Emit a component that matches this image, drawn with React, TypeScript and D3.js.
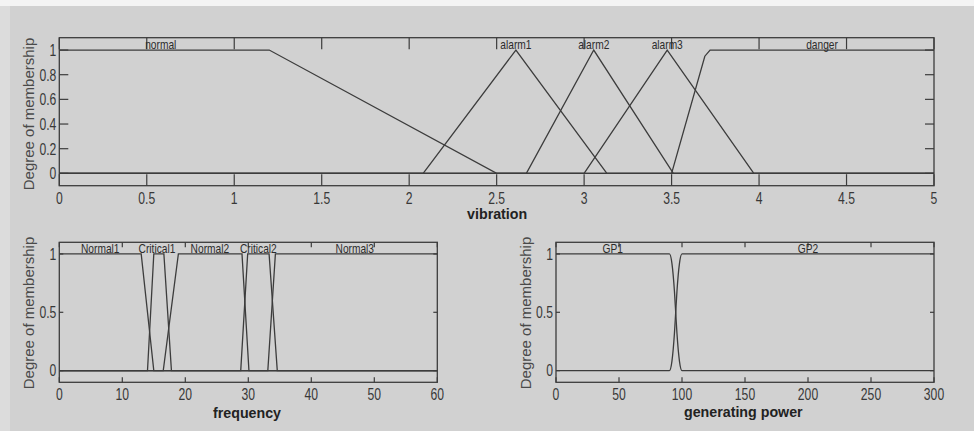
import React from "react";
import * as d3 from "d3";

// ---------- data ----------
const vibTicks = [0, 0.5, 1, 1.5, 2, 2.5, 3, 3.5, 4, 4.5, 5];
const vibYTicks = [0, 0.2, 0.4, 0.6, 0.8, 1];
const vibNames = ["normal", "alarm1", "alarm2", "alarm3", "danger"];
const vibLabelX = [0.58, 2.61, 3.055, 3.475, 4.36];
const vibNormal: [number, number][] = [[0, 1], [1.2, 1], [2.5, 0], [5, 0]];
const vibAlarm1: [number, number][] = [[0, 0], [2.08, 0], [2.61, 1], [3.13, 0], [5, 0]];
const vibAlarm2: [number, number][] = [[0, 0], [2.67, 0], [3.055, 1], [3.51, 0], [5, 0]];
const vibAlarm3: [number, number][] = [[0, 0], [3.0, 0], [3.475, 1], [3.97, 0], [5, 0]];
const vibDanger: [number, number][] = [[0, 0], [3.5, 0], [3.69, 0.95], [3.72, 1], [5, 1]];

const freqTicks = [0, 10, 20, 30, 40, 50, 60];
const smallYTicks = [0, 0.5, 1];
const freqNames = ["Normal1", "Critical1", "Normal2", "Critical2", "Normal3"];
const freqLabelX = [6.5, 15.5, 23.9, 31.6, 46.9];
const freqNormal1: [number, number][] = [[0, 1], [13, 1], [15, 0], [60, 0]];
const freqCritical1: [number, number][] = [[0, 0], [14, 0], [15, 1], [16.6, 1], [17.8, 0], [60, 0]];
const freqNormal2: [number, number][] = [[0, 0], [16.5, 0], [18.9, 1], [29, 1], [30.1, 0], [60, 0]];
const freqCritical2: [number, number][] = [[0, 0], [28.8, 0], [29.9, 1], [33.3, 1], [34.6, 0], [60, 0]];
const freqNormal3: [number, number][] = [[0, 0], [33.1, 0], [34.3, 1], [60, 1]];

const gpTicks = [0, 50, 100, 150, 200, 250, 300];
const gpNames = ["GP1", "GP2"];
const gpLabelX = [45, 200];
const gp1: [number, number][] = [[0, 1], [90, 1], [92, 0.92], [94, 0.68], [95, 0.5], [96, 0.32], [98, 0.08], [100, 0], [300, 0]];
const gp2: [number, number][] = [[0, 0], [90, 0], [92, 0.08], [94, 0.32], [95, 0.5], [96, 0.68], [98, 0.92], [100, 1], [300, 1]];

// ---------- drawing ----------
const INK = "#3c3c3c";
const FONT = "'Liberation Sans', Arial, sans-serif";

function NText({ x, y, children, size, anchor = "middle", sx = 0.8, weight = "normal", rotate = 0, fill = "#2c2c2c" }: any) {
  return (
    <text
      transform={`translate(${x},${y}) rotate(${rotate}) scale(${sx},1)`}
      fontSize={size}
      fontFamily={FONT}
      fontWeight={weight}
      textAnchor={anchor}
      fill={fill}
    >
      {children}
    </text>
  );
}

function MFPlot({ left, right, top, bottom, domain, xTicks, yTicks, mfs, names, labelX, xLabel, xTickLen, yTickLen, xLabelY, tickLabelY, yLabelX, yLabelY, tickFmt, curve }: any) {
  const x = d3.scaleLinear().domain(domain).range([left, right]);
  const y = d3.scaleLinear().domain([-0.1, 1.1]).range([bottom, top]);
  const line = d3
    .line<[number, number]>()
    .x((d) => x(d[0]))
    .y((d) => y(d[1]))
    .curve(curve || d3.curveLinear);
  return (
    <g>
      {mfs.map((m: [number, number][], i: number) => (
        <path key={i} d={line(m) || ""} fill="none" stroke={INK} strokeWidth={1.3} />
      ))}
      <rect x={left} y={top} width={right - left} height={bottom - top} fill="none" stroke={INK} strokeWidth={1.3} />
      {xTicks.map((t: number) => (
        <g key={"xt" + t}>
          <line x1={x(t)} x2={x(t)} y1={bottom} y2={bottom - xTickLen} stroke={INK} strokeWidth={1.2} />
          <line x1={x(t)} x2={x(t)} y1={top} y2={top + xTickLen} stroke={INK} strokeWidth={1.2} />
          <NText x={x(t)} y={tickLabelY} size={16} sx={0.76} fill="#383838">
            {tickFmt(t)}
          </NText>
        </g>
      ))}
      {yTicks.map((t: number) => (
        <g key={"yt" + t}>
          <line x1={left} x2={left + yTickLen} y1={y(t)} y2={y(t)} stroke={INK} strokeWidth={1.2} />
          <line x1={right} x2={right - yTickLen} y1={y(t)} y2={y(t)} stroke={INK} strokeWidth={1.2} />
          <NText x={left - 3} y={y(t) + 5.8} size={16} sx={0.76} anchor="end" fill="#383838">
            {String(t)}
          </NText>
        </g>
      ))}
      {names.map((n: string, i: number) => (
        <NText key={n} x={x(labelX[i])} y={y(1) - 1} size={12} sx={0.85}>
          {n}
        </NText>
      ))}
      <NText x={(left + right) / 2 + (xLabel.dx || 0)} y={xLabelY} size={15} sx={0.95} weight="bold" fill="#222">
        {xLabel.text}
      </NText>
      <NText x={yLabelX} y={yLabelY} size={15} sx={1} rotate={-90} fill="#4a4a4a">
        Degree of membership
      </NText>
    </g>
  );
}

export default function App() {
  return (
    <svg width={974} height={431} style={{ position: "absolute", left: 0, top: 0 }}>
      <rect x={0} y={0} width={974} height={431} fill="#f4f4f4" />
      <rect x={0} y={6} width={974} height={425} fill="#dcdcdc" />
      <rect x={10} y={6} width={964} height={425} fill="#d1d1d1" />
      <MFPlot
        left={59.3}
        right={934}
        top={37.7}
        bottom={185.7}
        domain={[0, 5]}
        xTicks={vibTicks}
        yTicks={vibYTicks}
        mfs={[vibNormal, vibAlarm1, vibAlarm2, vibAlarm3, vibDanger]}
        names={vibNames}
        labelX={vibLabelX}
        xLabel={{ text: "vibration", dx: 0.5 }}
        xTickLen={11.5}
        yTickLen={9}
        xLabelY={219}
        tickLabelY={203.5}
        yLabelX={34}
        yLabelY={114}
        tickFmt={(t: number) => String(t)}
      />
      <MFPlot
        left={59.3}
        right={437.3}
        top={242.3}
        bottom={382.3}
        domain={[0, 60]}
        xTicks={freqTicks}
        yTicks={smallYTicks}
        mfs={[freqNormal1, freqCritical1, freqNormal2, freqCritical2, freqNormal3]}
        names={freqNames}
        labelX={freqLabelX}
        xLabel={{ text: "frequency", dx: -1.3 }}
        xTickLen={5}
        yTickLen={4}
        xLabelY={417.5}
        tickLabelY={399.5}
        yLabelX={34}
        yLabelY={313}
        tickFmt={(t: number) => String(t)}
      />
      <MFPlot
        left={556}
        right={934}
        top={242.3}
        bottom={382.3}
        domain={[0, 300]}
        xTicks={gpTicks}
        yTicks={smallYTicks}
        mfs={[gp1, gp2]}
        names={gpNames}
        labelX={gpLabelX}
        xLabel={{ text: "generating power", dx: -1.7 }}
        xTickLen={5}
        yTickLen={4}
        xLabelY={417}
        tickLabelY={399.5}
        yLabelX={531}
        yLabelY={313}
        tickFmt={(t: number) => String(t)}
        curve={d3.curveMonotoneX}
      />
    </svg>
  );
}
